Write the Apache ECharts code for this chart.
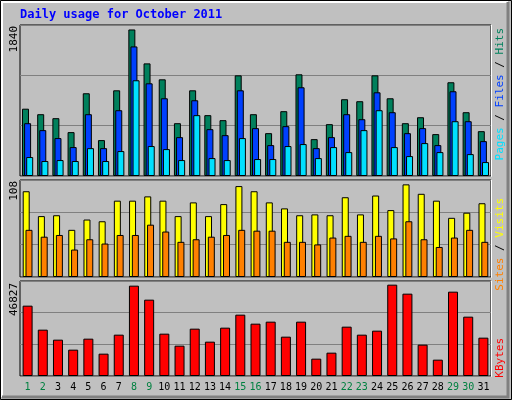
<!DOCTYPE html>
<html>
<head>
<meta charset="utf-8">
<script src="https://cdn.jsdelivr.net/npm/echarts@6/dist/echarts.min.js"></script>
<style>html,body{margin:0;padding:0;background:#fff}#chart{width:512px;height:400px}</style>
</head>
<body>
<div id="chart"></div>
<script>
var days = ['1','2','3','4','5','6','7','8','9','10','11','12','13','14','15','16','17','18','19','20','21','22','23','24','25','26','27','28','29','30','31'];
var weekend = ['1','2','8','9','15','16','22','23','29','30'];
var hits = [845,776,726,551,1039,451,1076,1840,1414,1214,663,1076,764,701,1264,776,538,814,1277,463,651,964,939,1264,976,663,738,526,1177,801,563];
var files = [663,576,476,363,776,350,826,1627,1164,976,488,951,588,513,1076,601,388,626,1114,350,488,776,713,1051,801,538,601,388,1064,688,438];
var pages = [238,188,200,188,350,188,313,1202,376,338,200,764,225,200,476,213,213,376,401,225,363,300,576,826,363,250,413,300,688,275,175];
var visits = [100,71,72,55,67,65,89,89,94,89,71,87,71,85,106,100,87,80,72,73,72,93,73,95,78,108,97,89,69,75,86];
var sites = [55,47,49,32,44,39,49,49,61,53,41,44,47,49,55,54,54,41,41,38,46,48,41,48,45,65,44,35,46,55,41];
var kbytes = [36060,23755,18628,13501,19141,11450,21192,46314,39136,21704,15552,24268,17603,24781,31446,26831,27857,20166,27857,8887,11963,25293,21192,23242,46827,42212,16065,8374,43238,30420,19654];
var maxLabels = ['1840', '108', '46827'];

var FONT = 'DejaVu Sans Mono';
var chart = echarts.init(document.getElementById('chart'));

function xAxisFor(idx, showLabels) {
    return {
        type: 'category', gridIndex: idx, data: days,
        axisLine: {show: false}, axisTick: {show: false},
        axisLabel: {
            show: showLabels, interval: 0, margin: 6, fontFamily: FONT, fontSize: 10,
            formatter: function (v) {
                return weekend.indexOf(v) >= 0 ? '{we|' + v + '}' : '{wd|' + v + '}';
            },
            rich: {we: {color: '#008040', fontFamily: FONT, fontSize: 10}, wd: {color: '#000', fontFamily: FONT, fontSize: 10}}
        }
    };
}
function yAxisFor(idx, max) {
    return {
        type: 'value', gridIndex: idx, min: 0, max: max, interval: max / 3,
        axisLabel: {show: false}, axisLine: {show: false}, axisTick: {show: false},
        splitLine: {lineStyle: {color: '#808080', width: 1}}
    };
}
function bar(name, data, color, xi, width, gap) {
    return {
        name: name, type: 'bar', data: data, xAxisIndex: xi, yAxisIndex: xi,
        barWidth: width, barGap: gap, animation: false,
        itemStyle: {color: color, borderColor: '#000', borderWidth: 1}
    };
}
function sideLabel(x, y, parts) {
    var txt = parts.map(function (p, i) { return '{c' + i + '|' + p[0] + '}'; }).join('');
    var rich = {};
    parts.forEach(function (p, i) { rich['c' + i] = {fill: p[1], fontFamily: FONT, fontSize: 11}; });
    return {type: 'text', x: x, y: y, rotation: Math.PI / 2,
        style: {text: txt, rich: rich, align: 'right', verticalAlign: 'middle'}};
}

option = {
    backgroundColor: '#c0c0c0',
    animation: false,
    grid: [
        {left: 20, top: 25, width: 471, height: 151, show: true, backgroundColor: '#c0c0c0', borderColor: '#000'},
        {left: 20, top: 180, width: 471, height: 97, show: true, backgroundColor: '#c0c0c0', borderColor: '#000'},
        {left: 20, top: 281, width: 471, height: 95, show: true, backgroundColor: '#c0c0c0', borderColor: '#000'}
    ],
    xAxis: [xAxisFor(0, false), xAxisFor(1, false), xAxisFor(2, true)],
    yAxis: [yAxisFor(0, 1896), yAxisFor(1, 113.1), yAxisFor(2, 48707)],
    series: [
        bar('Hits', hits, '#00805c', 0, 7, '-70%'),
        bar('Files', files, '#0040ff', 0, 7, '-70%'),
        bar('Pages', pages, '#00e0ff', 0, 7, '-70%'),
        bar('Visits', visits, '#ffff00', 1, 7, '-60%'),
        bar('Sites', sites, '#ff8000', 1, 7, '-60%'),
        bar('KBytes', kbytes, '#ff0000', 2, 10, '0%')
    ],
    graphic: [
        {type: 'rect', shape: {x: 0.5, y: 0.5, width: 511, height: 399}, style: {fill: 'none', stroke: '#000', lineWidth: 1}, silent: true},
        {type: 'polyline', shape: {points: [[2, 397], [2, 2], [508, 2]]}, style: {stroke: '#fff', lineWidth: 2, fill: 'none'}},
        {type: 'polyline', shape: {points: [[508, 2], [508, 397], [2, 397]]}, style: {stroke: '#808080', lineWidth: 3, fill: 'none'}},
        {type: 'polyline', shape: {points: [[491.5, 25], [491.5, 176.5], [20, 176.5]]}, style: {stroke: '#fff', lineWidth: 1, fill: 'none'}},
        {type: 'polyline', shape: {points: [[491.5, 180], [491.5, 277.5], [20, 277.5]]}, style: {stroke: '#fff', lineWidth: 1, fill: 'none'}},
        {type: 'polyline', shape: {points: [[491.5, 281], [491.5, 376.5], [20, 376.5]]}, style: {stroke: '#fff', lineWidth: 1, fill: 'none'}},
        {type: 'text', x: 20, y: 9, style: {text: 'Daily usage for October 2011', fill: '#0000ff', fontFamily: FONT, fontSize: 12, fontWeight: 'bold'}},
        {type: 'text', x: 14, y: 26, rotation: Math.PI / 2, style: {text: maxLabels[0], fill: '#000', fontFamily: FONT, fontSize: 11, align: 'right', verticalAlign: 'middle'}},
        {type: 'text', x: 14, y: 181, rotation: Math.PI / 2, style: {text: maxLabels[1], fill: '#000', fontFamily: FONT, fontSize: 11, align: 'right', verticalAlign: 'middle'}},
        {type: 'text', x: 14, y: 283, rotation: Math.PI / 2, style: {text: maxLabels[2], fill: '#000', fontFamily: FONT, fontSize: 11, align: 'right', verticalAlign: 'middle'}},
        sideLabel(500, 28, [['Pages', '#00e0ff'], [' / ', '#000'], ['Files', '#0040ff'], [' / ', '#000'], ['Hits', '#00805c']]),
        sideLabel(500, 198, [['Sites', '#ff8000'], [' / ', '#000'], ['Visits', '#ffff00']]),
        sideLabel(500, 338, [['KBytes', '#ff0000']])
    ]
};
chart.setOption(option);
</script>
</body>
</html>
